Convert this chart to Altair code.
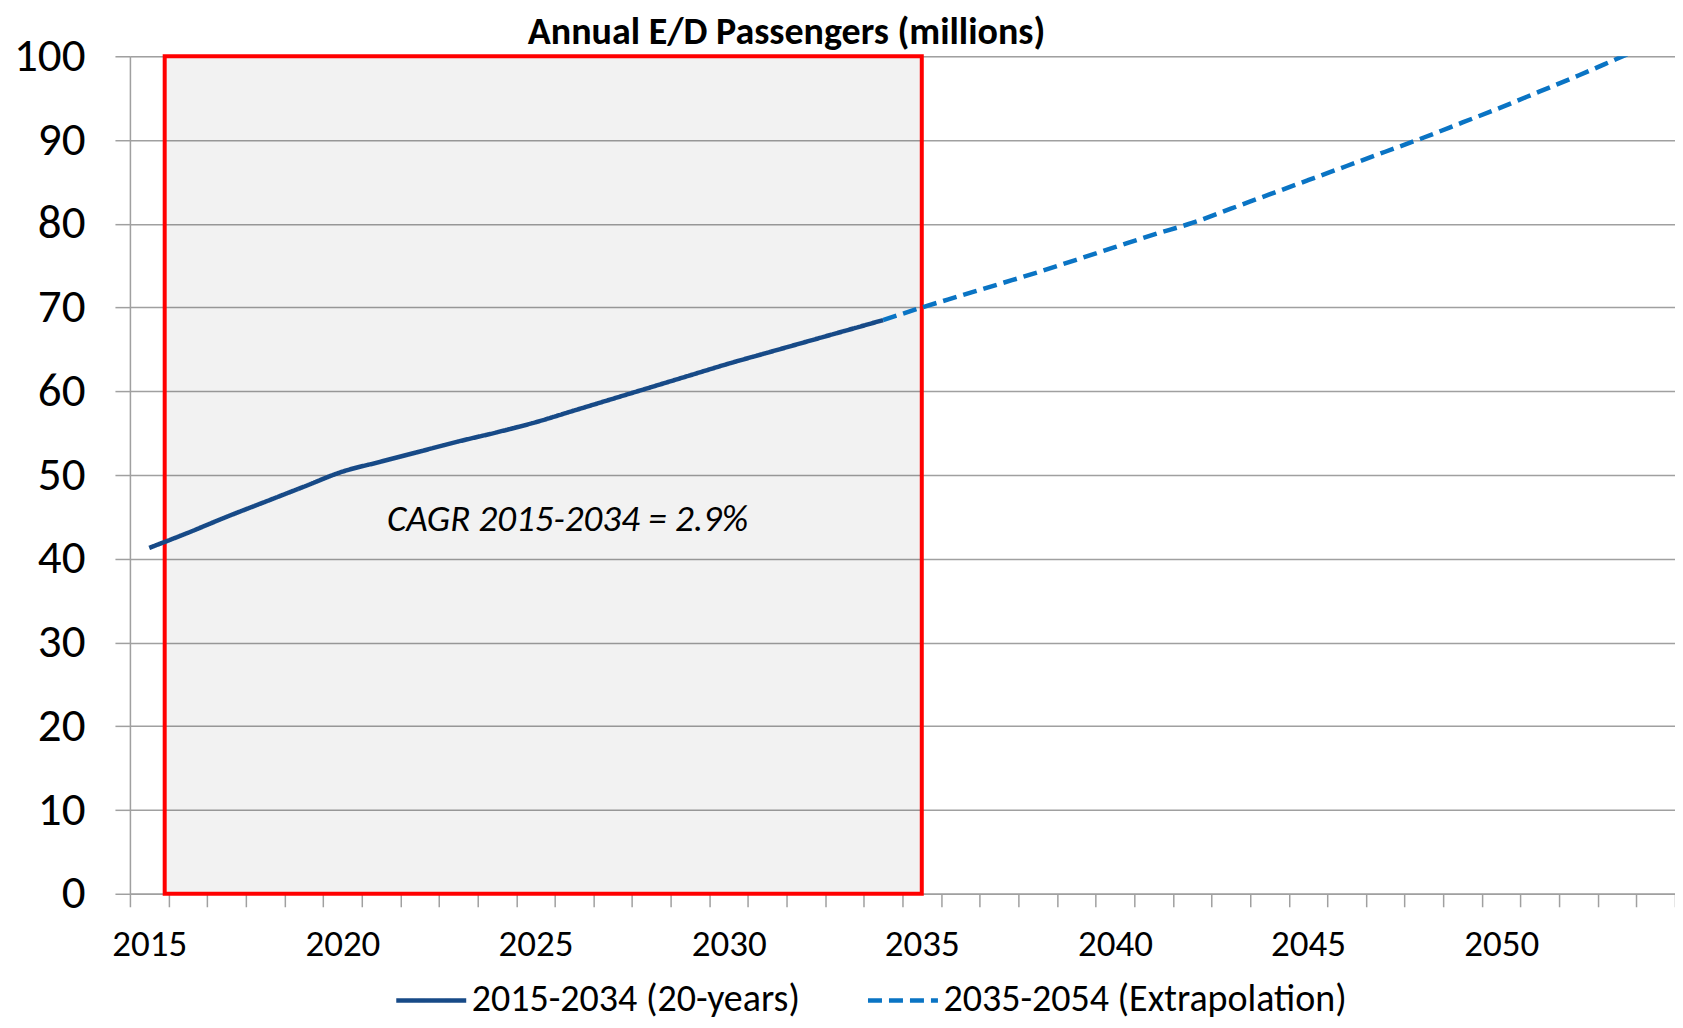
import altair as alt
import pandas as pd

FONT = "Carlito, Calibri, Lato, sans-serif"

title_text = "Annual E/D Passengers (millions)"
series_labels = ["2015-2034 (20-years)", "2035-2054 (Extrapolation)"]
series_colors = ["#174A87", "#0A74C4"]

solid_years = list(range(2015, 2035))
solid_values = [41.3, 43.1, 45.0, 46.8, 48.6, 50.4, 51.6, 52.8, 54.0, 55.1,
                56.3, 57.7, 59.1, 60.5, 61.9, 63.3, 64.6, 65.9, 67.2, 68.5]

dash_years = list(range(2034, 2055))
dash_values = [68.5, 70.0, 71.4, 72.8, 74.2, 75.7, 77.2, 78.7, 80.1, 81.8,
               83.5, 85.2, 86.9, 88.6, 90.3, 92.1, 93.9, 95.8, 97.7, 99.7, 101.7]

box_x = [2015.4]
box_x2 = [2035.0]
box_y = [0]
box_y2 = [100]

cagr_text = ["CAGR 2015-2034 = 2.9%"]
cagr_x = [2025.83]
cagr_y = [44.6]

y_ticks = list(range(0, 101, 10))
x_ticks = [2014.5 + i for i in range(41)]

lines_df = pd.concat([
    pd.DataFrame({"year": solid_years, "value": solid_values, "series": series_labels[0]}),
    pd.DataFrame({"year": dash_years, "value": dash_values, "series": series_labels[1]}),
])
box_df = pd.DataFrame({"x1": box_x, "x2": box_x2, "y1": box_y, "y2": box_y2})
cagr_df = pd.DataFrame({"x": cagr_x, "y": cagr_y, "t": cagr_text})

W, H = 1546, 838
half_year_px = W / 40 / 2

xs = alt.Scale(domain=[2014.5, 2054.5], nice=False, zero=False)
ys = alt.Scale(domain=[0, 100], nice=False, zero=True)

GRID = "#A0A0A0"

x_axis = alt.Axis(
    values=x_ticks, title=None, grid=False,
    labelExpr="(datum.value < 2054 && (datum.value + 0.5) % 5 == 0) ? toString(datum.value + 0.5) : ''",
    labelOffset=half_year_px, labelOverlap=False, labelFlush=False, labelBound=False,
    tickSize=13, tickColor=GRID, tickWidth=1.5, domainColor=GRID, domainWidth=1.5,
    labelFontSize=37, labelFont=FONT, labelColor="black", labelPadding=20,
)
y_axis = alt.Axis(
    values=y_ticks, title=None, grid=True, gridColor=GRID, gridWidth=1.5,
    tickSize=15, tickColor=GRID, tickWidth=1.5, domainColor=GRID, domainWidth=1.5,
    labelFontSize=47, labelFont=FONT, labelColor="black", labelPadding=30,
    labelOverlap=False,
)

box = alt.Chart(box_df).mark_rect(
    fill="#000000", fillOpacity=0.052, stroke="#FF0000", strokeWidth=4
).encode(
    x=alt.X("x1:Q", scale=xs, axis=x_axis),
    x2="x2:Q",
    y=alt.Y("y1:Q", scale=ys, axis=y_axis),
    y2="y2:Q",
)

legend = alt.Legend(
    orient="none", legendX=264, legendY=907, direction="horizontal", title=None,
    symbolType="stroke", symbolSize=4900, symbolStrokeWidth=4.5,
    labelFontSize=38, labelFont=FONT, labelColor="black", labelOffset=3,
    columnPadding=58, padding=0, labelLimit=700,
)

lines = alt.Chart(lines_df).mark_line(strokeWidth=4.5, clip=True, interpolate="monotone").encode(
    x=alt.X("year:Q", scale=xs, axis=x_axis),
    y=alt.Y("value:Q", scale=ys, axis=y_axis),
    color=alt.Color("series:N", scale=alt.Scale(domain=series_labels, range=series_colors), legend=legend),
    strokeDash=alt.StrokeDash("series:N", scale=alt.Scale(domain=series_labels, range=[[1, 0], [14, 7]]), legend=legend),
)

cagr = alt.Chart(cagr_df).mark_text(
    font=FONT, fontSize=37, fontStyle="italic", color="black", align="center", baseline="middle"
).encode(
    x=alt.X("x:Q", scale=xs, axis=x_axis),
    y=alt.Y("y:Q", scale=ys, axis=y_axis),
    text="t:N",
)

chart = alt.layer(box, lines, cagr).properties(
    width=W, height=H,
    title=alt.TitleParams(title_text, fontSize=38, fontWeight="bold", font=FONT, color="black",
                          anchor="middle", dx=-116, offset=-20),
    autosize=alt.AutoSizeParams(type="none"),
    padding={"left": 122, "top": 48, "right": 0, "bottom": 126},
).configure_view(strokeWidth=0).configure_axis(labelOverlap=False).configure(background="white")

chart.save("out.html", embed_options={"renderer": "svg", "actions": False})
